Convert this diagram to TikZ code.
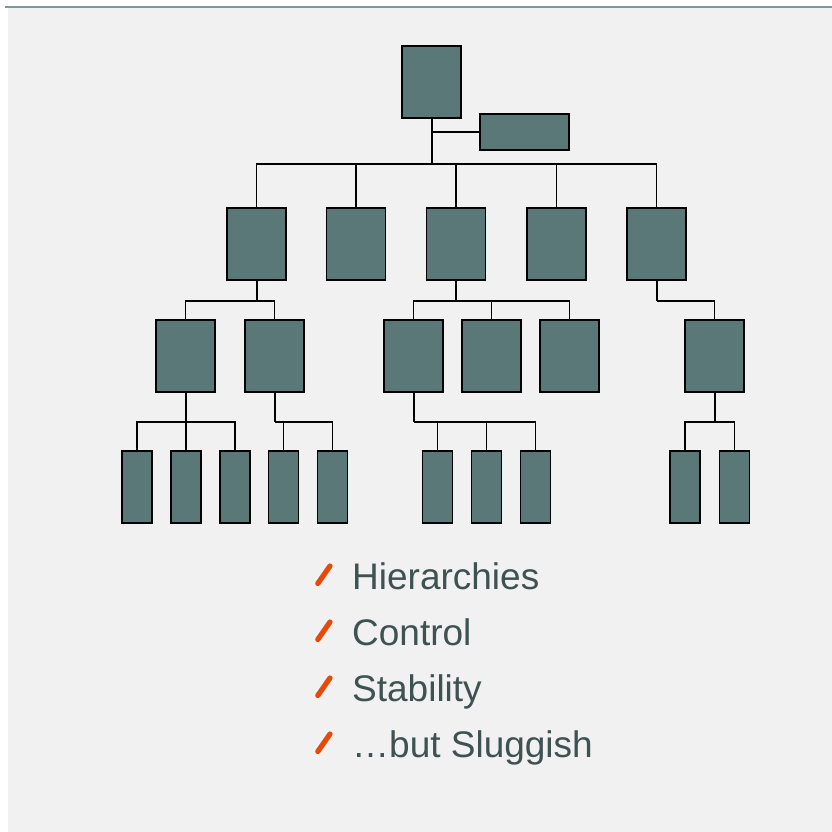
\documentclass[tikz,border=0pt]{standalone}
\usepackage{fontspec}
\setmainfont{Liberation Sans}
\definecolor{boxfill}{RGB}{90,120,120}
\definecolor{pagebg}{RGB}{241,241,241}
\definecolor{rulecol}{RGB}{122,154,154}
\definecolor{textcol}{RGB}{62,82,82}
\definecolor{bulletcol}{RGB}{232,72,10}
\begin{document}
\begin{tikzpicture}[x=1pt,y=-1pt,
  unit/.style={draw=black,fill=boxfill,line width=1.8pt,inner sep=0pt,
    minimum width=59pt,minimum height=72pt},
  wide/.style={unit,minimum width=89pt,minimum height=36pt},
  leaf/.style={unit,minimum width=30pt,minimum height=72pt},
  stem/.style={line width=2.0pt},
  link/.style={line width=1.4pt},
  item/.style={anchor=base west,inner sep=0pt,text=textcol,
    font=\fontsize{37}{37}\selectfont},
  tick/.style={line width=5.2pt,line cap=round,draw=bulletcol}]
% page and top rule
\useasboundingbox (0,0) rectangle (832,832);
\fill[white] (0,0) rectangle (832,832);
\fill[pagebg] (8,8) rectangle (832,832);
\draw[rulecol,line width=2pt] (5,7.5) -- (832,7.5);

% top of the chart
\node[unit] (root) at (431.5,82) {};
\node[wide] (side) at (524.5,132) {};

% first level
\foreach \n/\x in {a/256.5,b/356,c/456,d/556.5,e/656.5}
  \node[unit] (\n) at (\x,244) {};

% second level
\foreach \n/\x in {a1/185.5,a2/274.5,c1/413.5,c2/491.5,c3/569.5,e1/714.5}
  \node[unit] (\n) at (\x,356) {};

% third level
\foreach \n/\x in {a11/137,a12/186,a13/235,a21/283.5,a22/332.5,
                   c11/437.5,c12/486.5,c13/535.5,e11/685,e12/734.5}
  \node[leaf] (\n) at (\x,487) {};

% connectors from the top box
\draw[stem] (root.south) -- ++(0,45);
\draw[link] (root.south |- side.west) -- (side.west);
\foreach \c in {a,b,c,d,e}
  \draw[link] (root.south) ++(0,45) -| (\c.north);

% connectors to the second level
\foreach \p/\kids in {a/{a1,a2},c/{c1,c2,c3},e/{e1}}{
  \draw[stem] (\p.south) -- ++(0,20);
  \foreach \c in \kids
    \draw[link] (\p.south) ++(0,20) -| (\c.north);
}

% connectors to the third level
\foreach \p/\kids in {a1/{a11,a12,a13},a2/{a21,a22},c1/{c11,c12,c13},e1/{e11,e12}}{
  \draw[stem] (\p.south) -- ++(0,29);
  \foreach \c in \kids
    \draw[link] (\p.south) ++(0,29) -| (\c.north);
}

% bullet list
\foreach \n/\y/\t in {h/589/Hierarchies,k/645/Control,s/701/Stability,g/757/{\ldots but Sluggish}}{
  \draw[tick] (317.8,\y-5.5) -- (330,\y-23);
  \node[item] (\n) at (352,\y) {\t};
}
\end{tikzpicture}
\end{document}
